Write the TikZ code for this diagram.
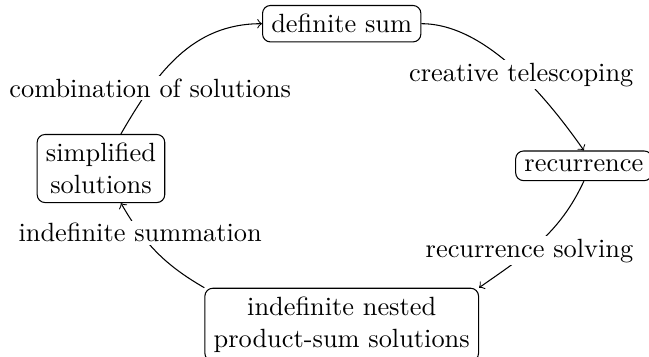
\documentclass[tikz,border=0pt]{standalone}
\usetikzlibrary{positioning}

\begin{document}
\begin{tikzpicture}[box/.style={draw=black,rounded corners=3pt,align=center},
                    lbl/.style={fill=white,inner sep=1pt}]
                \useasboundingbox (-4.556,-4.431) rectangle (4.097,0.316);
                \node[box] (sum) {definite sum};
                \node[box,below right=1.44cm and 1.25cm of sum] (rec) {recurrence};
                \node[box,below=3.27cm of sum] (sol) {indefinite nested\\product-sum solutions};
                \node[box,below left=1.22cm and 1.29cm of sum] (simp) {simplified\\solutions};
                \draw[->] (sum) to[out=0,in=125,looseness=0.8] node[lbl,pos=0.55] {creative telescoping} (rec.north);
                \draw[->] (rec.south) to[out=-115,in=35] node[lbl,pos=0.6] {recurrence solving} (sol.north east);
                \draw[->] (sol.north west) to[out=150,in=-60] node[lbl,pos=0.72] {indefinite summation} (simp);
                \draw[->] (simp) to[out=60,in=180] node[lbl,pos=0.27] {combination of solutions} (sum);
            \end{tikzpicture}
\end{document}
